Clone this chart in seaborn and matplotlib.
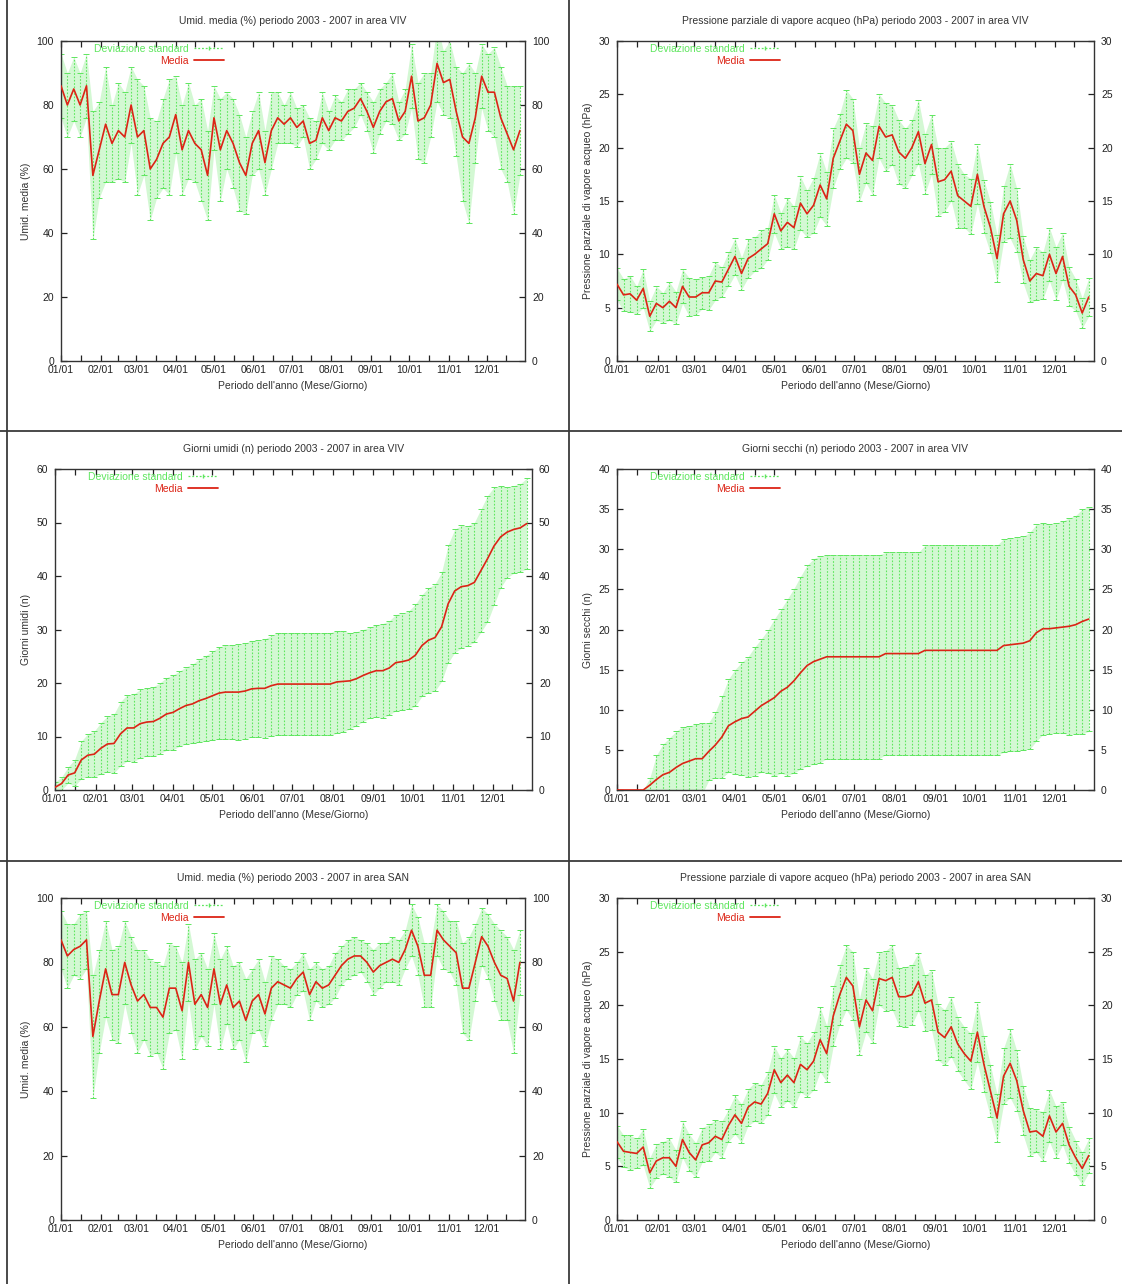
import numpy as np
import matplotlib
matplotlib.use('Agg')
import matplotlib.pyplot as plt
from matplotlib.lines import Line2D
import seaborn as sns

# giorni dell'anno (un valore ogni 5 giorni)
giorni = np.arange(0, 365, 5)

mesi_pos = [0, 31, 59, 90, 120, 151, 181, 212, 243, 273, 304, 334]
mesi_lab = ['01/01', '02/01', '03/01', '04/01', '05/01', '06/01',
            '07/01', '08/01', '09/01', '10/01', '11/01', '12/01']

# Umid. media (%) - area VIV
umid_viv_media = [86, 80, 85, 80, 86, 58, 66, 74, 68, 72,
                  70, 80, 70, 72, 60, 63, 68, 70, 77, 66,
                  72, 68, 66, 58, 76, 66, 72, 68, 62, 58,
                  68, 72, 62, 72, 76, 74, 76, 73, 75, 68,
                  69, 76, 72, 76, 75, 78, 79, 82, 78, 73,
                  78, 81, 82, 75, 78, 89, 75, 76, 80, 93,
                  87, 88, 78, 70, 68, 76, 89, 84, 84, 76,
                  71, 66, 72]
umid_viv_std = [10, 10, 10, 10, 10, 20, 15, 18, 12, 15,
                14, 12, 18, 14, 16, 12, 14, 18, 12, 14,
                15, 12, 16, 14, 10, 16, 12, 14, 15, 12,
                10, 12, 10, 12, 8, 6, 8, 6, 5, 8,
                6, 8, 6, 7, 6, 7, 6, 5, 6, 8,
                7, 6, 8, 6, 7, 10, 12, 14, 10, 12,
                10, 12, 14, 20, 25, 14, 10, 12, 14, 16,
                15, 20, 14]

# Pressione parziale di vapore acqueo (hPa) - area VIV
vap_viv_media = [7.2, 6.2, 6.3, 5.7, 6.8, 4.2, 5.4, 5.0, 5.6, 5.0,
                 7.0, 6.0, 6.0, 6.4, 6.4, 7.5, 7.4, 8.6, 9.8, 8.2,
                 9.6, 10.0, 10.5, 11.0, 13.8, 12.2, 13.0, 12.5, 14.8, 13.8,
                 14.6, 16.5, 15.2, 19.0, 20.6, 22.2, 21.6, 17.5, 19.5, 18.8,
                 22.0, 21.0, 21.2, 19.6, 19.0, 20.0, 21.5, 18.5, 20.3, 16.8,
                 17.0, 17.8, 15.5, 15.0, 14.5, 17.5, 14.5, 12.5, 9.6, 13.8,
                 15.0, 13.2, 9.5, 7.5, 8.2, 8.0, 10.0, 8.2, 9.8, 7.0,
                 6.2, 4.5, 6.0]
vap_viv_std = [1.5, 1.5, 1.7, 1.3, 1.8, 1.4, 1.6, 1.4, 1.8, 1.5,
               1.6, 1.8, 1.7, 1.5, 1.6, 1.8, 1.4, 1.6, 1.7, 1.5,
               1.8, 1.6, 1.8, 1.5, 1.8, 1.7, 2.3, 2.0, 2.5, 2.2,
               2.6, 3.0, 2.5, 2.8, 2.6, 3.2, 3.0, 2.5, 2.8, 3.2,
               3.0, 3.2, 2.8, 3.0, 2.8, 2.6, 3.0, 2.8, 2.8, 3.2,
               3.0, 2.8, 3.0, 2.5, 2.6, 2.8, 2.5, 2.4, 2.2, 2.6,
               3.5, 3.0, 2.2, 2.0, 2.5, 2.2, 2.5, 2.5, 2.2, 1.8,
               1.5, 1.4, 1.8]

# Giorni umidi (n) - area VIV
umidi_viv_media = [0.5, 1.2, 2.8, 3.2, 5.6, 6.5, 6.7, 7.8, 8.6, 8.7,
                   10.5, 11.6, 11.6, 12.4, 12.7, 12.8, 13.4, 14.2, 14.5, 15.2,
                   15.8, 16.1, 16.7, 17.1, 17.6, 18.1, 18.3, 18.3, 18.3, 18.5,
                   18.9, 19.0, 19.0, 19.5, 19.8, 19.8, 19.8, 19.8, 19.8, 19.8,
                   19.8, 19.8, 19.8, 20.2, 20.3, 20.4, 20.8, 21.4, 21.9, 22.3,
                   22.3, 22.8, 23.8, 24.0, 24.3, 25.2, 27.0, 28.0, 28.5, 30.5,
                   34.8, 37.2, 38.0, 38.2, 38.8, 41.0, 43.2, 45.6, 47.3, 48.2,
                   48.7, 49.0, 49.8]
umidi_viv_std = [1.0, 1.2, 1.5, 2.5, 3.5, 4.0, 4.3, 4.8, 5.2, 5.5,
                 6.0, 6.2, 6.3, 6.4, 6.4, 6.5, 6.6, 6.8, 7.0, 7.0,
                 7.2, 7.4, 7.8, 8.0, 8.3, 8.6, 8.8, 8.8, 8.9, 9.0,
                 9.0, 9.1, 9.2, 9.4, 9.6, 9.6, 9.6, 9.6, 9.6, 9.6,
                 9.6, 9.6, 9.6, 9.6, 9.4, 9.0, 8.8, 8.6, 8.5, 8.6,
                 8.8, 8.8, 9.0, 9.0, 9.2, 9.5, 9.5, 9.8, 10.0, 10.2,
                 11.0, 11.5, 11.5, 11.2, 11.2, 11.5, 11.8, 11.0, 9.5, 8.5,
                 8.2, 8.2, 8.5]

# Giorni secchi (n) - area VIV
secchi_viv_media = [0, 0, 0, 0, 0, 0.6, 1.3, 1.9, 2.2, 2.8,
                    3.3, 3.6, 3.9, 3.9, 4.8, 5.6, 6.6, 8.0, 8.5, 8.9,
                    9.1, 9.8, 10.5, 11.0, 11.5, 12.3, 12.8, 13.6, 14.6, 15.5,
                    16.0, 16.3, 16.6, 16.6, 16.6, 16.6, 16.6, 16.6, 16.6, 16.6,
                    16.6, 17.0, 17.0, 17.0, 17.0, 17.0, 17.0, 17.4, 17.4, 17.4,
                    17.4, 17.4, 17.4, 17.4, 17.4, 17.4, 17.4, 17.4, 17.4, 18.0,
                    18.1, 18.2, 18.3, 18.6, 19.6, 20.1, 20.1, 20.2, 20.3, 20.4,
                    20.6, 21.0, 21.3]
secchi_viv_std = [0, 0, 0, 0, 0, 0.9, 3.0, 3.8, 4.3, 4.5,
                  4.6, 4.4, 4.3, 4.4, 3.6, 4.1, 5.1, 5.8, 6.5, 7.0,
                  7.5, 8.0, 8.3, 8.9, 9.8, 10.2, 11.0, 11.5, 12.0, 12.5,
                  12.8, 12.9, 12.7, 12.7, 12.7, 12.7, 12.7, 12.7, 12.7, 12.7,
                  12.7, 12.6, 12.6, 12.6, 12.6, 12.6, 12.6, 13.1, 13.1, 13.1,
                  13.1, 13.1, 13.1, 13.1, 13.1, 13.1, 13.1, 13.1, 13.1, 13.3,
                  13.3, 13.3, 13.3, 13.5, 13.5, 13.2, 13.1, 13.1, 13.2, 13.5,
                  13.6, 14.0, 14.0]

# Umid. media (%) - area SAN
umid_san_media = [87, 82, 84, 85, 87, 57, 68, 78, 70, 70,
                  80, 73, 68, 70, 66, 66, 63, 72, 72, 65,
                  80, 67, 70, 66, 78, 67, 73, 66, 68, 62,
                  68, 70, 64, 72, 74, 73, 72, 75, 77, 70,
                  74, 72, 73, 76, 79, 81, 82, 82, 80, 77,
                  79, 80, 81, 80, 84, 90, 85, 76, 76, 90,
                  87, 85, 83, 72, 72, 80, 88, 85, 80, 76,
                  75, 68, 80]
umid_san_std = [9, 10, 8, 10, 9, 19, 16, 15, 14, 15,
                13, 15, 16, 14, 15, 14, 16, 14, 13, 15,
                12, 14, 13, 12, 11, 14, 12, 13, 12, 13,
                10, 11, 10, 10, 7, 6, 6, 5, 6, 8,
                6, 6, 6, 7, 6, 6, 6, 5, 6, 7,
                7, 6, 7, 7, 6, 8, 9, 10, 10, 8,
                9, 8, 10, 14, 16, 12, 9, 10, 12, 14,
                13, 16, 10]

# Pressione parziale di vapore acqueo (hPa) - area SAN
vap_san_media = [7.3, 6.4, 6.3, 6.2, 6.8, 4.4, 5.5, 5.8, 5.8, 5.0,
                 7.5, 6.3, 5.6, 7.0, 7.2, 7.8, 7.5, 8.8, 9.8, 9.0,
                 10.5, 11.0, 10.8, 11.8, 14.0, 12.8, 13.5, 12.8, 14.5, 14.0,
                 14.8, 16.8, 15.5, 19.0, 21.0, 22.6, 21.8, 18.0, 20.5, 19.5,
                 22.5, 22.3, 22.6, 20.8, 20.8, 21.0, 22.2, 20.2, 20.5, 17.5,
                 17.0, 18.0, 16.4, 15.5, 14.8, 17.5, 14.5, 12.0, 9.5, 13.4,
                 14.6, 13.0, 10.2, 8.2, 8.3, 7.8, 9.7, 8.2, 9.0, 7.0,
                 5.8, 4.8, 6.0]
vap_san_std = [1.5, 1.5, 1.6, 1.4, 1.7, 1.4, 1.6, 1.5, 1.8, 1.5,
               1.7, 1.7, 1.6, 1.6, 1.7, 1.5, 1.7, 1.5, 1.8, 1.8,
               1.7, 1.8, 1.8, 2.0, 2.2, 2.3, 2.4, 2.3, 2.6, 2.5,
               2.7, 3.0, 2.6, 2.8, 2.8, 3.0, 3.2, 2.6, 3.0, 3.0,
               2.5, 2.8, 3.0, 2.7, 2.8, 2.8, 2.7, 2.6, 2.8, 2.6,
               2.6, 2.8, 2.5, 2.5, 2.6, 2.8, 2.6, 2.4, 2.2, 2.6,
               3.2, 2.8, 2.3, 2.2, 2.0, 2.3, 2.4, 2.4, 2.0, 1.7,
               1.6, 1.5, 1.6]

titoli = ['Umid. media (%) periodo 2003 - 2007 in area VIV',
          'Pressione parziale di vapore acqueo (hPa) periodo 2003 - 2007 in area VIV',
          'Giorni umidi (n) periodo 2003 - 2007 in area VIV',
          'Giorni secchi (n) periodo 2003 - 2007 in area VIV',
          'Umid. media (%) periodo 2003 - 2007 in area SAN',
          'Pressione parziale di vapore acqueo (hPa) periodo 2003 - 2007 in area SAN']
etichette_y = ['Umid. media (%)',
               'Pressione parziale di vapore acqueo (hPa)',
               'Giorni umidi (n)',
               'Giorni secchi (n)',
               'Umid. media (%)',
               'Pressione parziale di vapore acqueo (hPa)']
medie = [umid_viv_media, vap_viv_media, umidi_viv_media,
         secchi_viv_media, umid_san_media, vap_san_media]
devs = [umid_viv_std, vap_viv_std, umidi_viv_std,
        secchi_viv_std, umid_san_std, vap_san_std]
y_max = [100, 30, 60, 40, 100, 30]
y_passo = [20, 5, 10, 5, 20, 5]

sns.set_style("ticks")
plt.rcParams['font.family'] = ['Liberation Sans', 'DejaVu Sans']
plt.rcParams['font.size'] = 7.5

W, H = 1122, 1284
# riquadri dei grafici in pixel: sinistra, destra, alto, basso
riquadri = [(61, 525, 41, 361), (617, 1094, 41, 361),
            (55, 532, 469, 790), (617, 1094, 469, 790),
            (61, 525, 898, 1220), (617, 1094, 898, 1220)]

VERDE = '#5fe65f'
VERDE_CHIARO = '#d3f8d3'
ROSSO = '#dc2416'

fig = plt.figure(figsize=(W / 100, H / 100), dpi=100)
fig.patch.set_facecolor('white')

for i in range(6):
    x0, x1, yt, yb = riquadri[i]
    ax = fig.add_axes([x0 / W, 1 - yb / H, (x1 - x0) / W, (yb - yt) / H])
    media = np.array(medie[i])
    dev = np.array(devs[i])

    ax.fill_between(giorni, media - dev, media + dev, color=VERDE_CHIARO,
                    linewidth=0, zorder=1)
    eb = ax.errorbar(giorni, media, yerr=dev, fmt='none', ecolor=VERDE,
                     elinewidth=0.8, capsize=2.2, capthick=0.7, zorder=2)
    eb[2][0].set_linestyle((0, (1.5, 1.5)))
    sns.lineplot(x=giorni, y=media, ax=ax, color=ROSSO, linewidth=1.2,
                 legend=False, zorder=3)

    ax.set_xlim(0, 364)
    ax.set_ylim(0, y_max[i])
    ax.set_xticks(mesi_pos)
    ax.set_xticklabels(mesi_lab)
    mezzi = [(mesi_pos[k] + mesi_pos[k + 1]) / 2 for k in range(11)] + [(334 + 364) / 2]
    ax.set_xticks(mezzi, minor=True)
    ax.set_yticks(np.arange(0, y_max[i] + 1, y_passo[i]))
    ax.tick_params(axis='both', which='both', direction='in', top=True,
                   right=True, labelright=True, colors='#222222',
                   labelsize=7.5, width=0.9)
    ax.tick_params(axis='both', which='major', length=4)
    ax.tick_params(axis='x', which='minor', length=4)
    ax.tick_params(axis='x', pad=3)
    ax.tick_params(axis='y', pad=5)
    for sp in ax.spines.values():
        sp.set_color('#333333')
        sp.set_linewidth(1.0)

    ax.set_title(titoli[i], fontsize=7.5, color='#333333', pad=12)
    ax.set_xlabel("Periodo dell'anno (Mese/Giorno)", fontsize=7.5,
                  color='#333333', labelpad=4)
    ax.set_ylabel(etichette_y[i], fontsize=7.5, color='#333333', labelpad=4)
    ax.grid(False)

    # legenda in stile gnuplot
    larg = x1 - x0
    alt = yb - yt
    h_dev = Line2D([], [], color=VERDE, linestyle=(0, (1.5, 1.5)),
                   linewidth=0.9, marker='|', markersize=3)
    h_med = Line2D([], [], color=ROSSO, linewidth=1.3)
    ax.legend([h_dev, h_med], ['Deviazione standard', 'Media'],
              loc='upper right', bbox_to_anchor=(163 / larg, 1 - 3 / alt),
              markerfirst=False, frameon=False, fontsize=7.5,
              handlelength=2.9, handletextpad=0.5, labelspacing=0.15,
              borderpad=0, borderaxespad=0,
              labelcolor=[VERDE, ROSSO])

# bordi della tabella
for xs, ys in [([7, 7], [0, H]), ([569, 569], [0, H]),
               ([0, W], [431, 431]), ([0, W], [861, 861])]:
    fig.add_artist(Line2D([x / W for x in xs], [1 - y / H for y in ys],
                          transform=fig.transFigure, color='#3a3a3a',
                          linewidth=1.3))

fig.savefig('out.png', dpi=100, facecolor='white')
